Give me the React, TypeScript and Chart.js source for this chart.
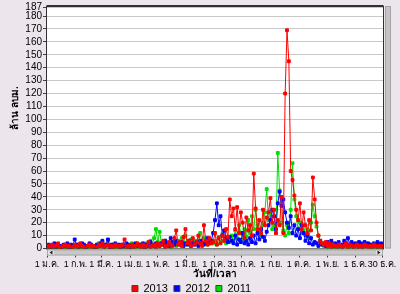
import React, { useEffect, useRef } from "react";
import { Chart, registerables } from "chart.js";

Chart.register(...registerables);

// ---- data ----
const STEP_DAYS = 2; // one sample every 2 days, day 0 = 1 Jan
const tickDays = [0, 31, 59, 90, 120, 151, 181, 211, 243, 273, 304, 334, 363];
const tickLabels = [
  "1 ม.ค.", "1 ก.พ.", "1 มี.ค.", "1 เม.ย.", "1 พ.ค.", "1 มิ.ย.", "1 ก.ค.",
  "31 ก.ค.", "1 ก.ย.", "1 ต.ค.", "1 พ.ย.", "1 ธ.ค.", "30 ธ.ค.",
];
const yTicks = [0, 10, 20, 30, 40, 50, 60, 70, 80, 90, 100, 110, 120, 130, 140, 150, 160, 170, 180, 187];
const seriesNames = ["2013", "2012", "2011"];
const seriesColors = ["#ff0000", "#0000ff", "#00dd00"];
const yTitle = "ล้าน ลบม.";
const xTitle = "วันที่/เวลา";

const values2013 = [
  1, 2, 0, 3, 1, 2, 4, 1, 0, 2,
  3, 1, 2, 0, 1, 3, 2, 1, 4, 2,
  1, 0, 2, 3, 1, 2, 0, 1, 3, 2,
  4, 1, 2, 3, 0, 2, 1, 3, 2, 1,
  2, 3, 7, 1, 2, 0, 3, 1, 2, 4,
  2, 1, 3, 0, 2, 5, 1, 2, 3, 1,
  4, 2, 3, 6, 1, 2, 5, 3, 2, 8,
  14, 3, 5, 2, 9, 15, 4, 6, 2, 8,
  3, 5, 10, 4, 2, 18, 6, 3, 8, 4,
  5, 12, 3, 8, 4, 10, 6, 15, 9, 38,
  25, 31, 15, 32, 12, 28, 20, 8, 24, 14,
  18, 10, 58, 31, 15, 22, 12, 30, 18, 24,
  28, 39, 20, 30, 12, 22, 18, 40, 12, 120,
  169, 145, 60, 53, 41, 30, 22, 35, 15, 28,
  18, 12, 22, 14, 55, 38, 20, 10, 6, 4,
  3, 5, 2, 4, 1, 3, 2, 1, 3, 2,
  1, 2, 4, 1, 3, 2, 1, 2, 3, 1,
  2, 1, 3, 2, 1, 2, 1, 3, 2, 1,
  2, 1, 2,
];
const values2012 = [
  2, 3, 1, 2, 4, 1, 3, 2, 1, 3,
  2, 4, 1, 3, 2, 7, 3, 1, 2, 4,
  3, 1, 2, 4, 3, 2, 1, 3, 2, 4,
  6, 2, 3, 7, 1, 3, 2, 4, 2, 3,
  1, 3, 2, 4, 3, 1, 2, 3, 4, 2,
  3, 2, 4, 1, 3, 2, 5, 3, 2, 4,
  3, 2, 4, 3, 6, 4, 2, 8, 5, 3,
  6, 4, 3, 5, 2, 4, 3, 6, 2, 4,
  3, 5, 2, 6, 4, 3, 5, 8, 4, 6,
  12, 22, 35, 18, 25, 10, 14, 8, 5, 9,
  6, 4, 10, 3, 7, 5, 12, 4, 6, 3,
  8, 5, 10, 4, 12, 7, 15, 9, 6, 13,
  18, 22, 30, 25, 15, 35, 44, 33, 38, 28,
  20, 16, 25, 12, 18, 10, 15, 8, 18, 12,
  6, 10, 4, 8, 3, 5, 4, 2, 6, 3,
  4, 2, 5, 3, 6, 2, 4, 3, 5, 2,
  3, 6, 4, 8, 3, 5, 2, 4, 3, 5,
  4, 3, 5, 2, 4, 3, 2, 4, 3, 5,
  3, 4, 2,
];
const values2011 = [
  1, 0, 2, 1, 0, 1, 3, 0, 1, 2,
  0, 1, 2, 1, 0, 2, 1, 3, 1, 0,
  2, 1, 0, 3, 1, 2, 1, 0, 4, 2,
  5, 1, 3, 6, 2, 1, 3, 0, 2, 1,
  2, 0, 1, 3, 1, 2, 4, 1, 0, 2,
  1, 3, 2, 0, 4, 2, 6, 3, 8, 15,
  5, 13, 4, 3, 6, 2, 4, 1, 3, 5,
  2, 6, 3, 8, 4, 10, 5, 3, 7, 6,
  4, 6, 3, 12, 5, 8, 4, 3, 7, 5,
  4, 6, 3, 9, 5, 11, 6, 4, 8, 5,
  10, 6, 14, 8, 18, 12, 7, 15, 9, 22,
  12, 25, 15, 30, 18, 12, 10, 20, 28, 46,
  22, 28, 15, 18, 12, 74, 45, 20, 14, 10,
  18, 12, 30, 66, 38, 25, 15, 20, 12, 18,
  10, 15, 8, 20, 34, 25, 17, 10, 5, 3,
  2, 3, 1, 2, 4, 1, 2, 3, 1, 2,
  1, 2, 3, 1, 2, 1, 3, 2, 1, 2,
  3, 1, 2, 4, 2, 3, 1, 2, 1, 2,
  1, 2, 1,
];
const seriesValues = [values2013, values2012, values2011];

const FONT = "'Liberation Sans', 'DejaVu Sans', sans-serif";

const decorPlugin = {
  id: "decor",
  beforeDraw(chart: any) {
    const { ctx, chartArea: a } = chart;
    ctx.save();
    ctx.fillStyle = "#ffffff";
    ctx.fillRect(a.left, a.top, a.right - a.left, a.bottom - a.top);
    ctx.restore();
  },
  afterDraw(chart: any) {
    const { ctx, chartArea: a } = chart;
    ctx.save();
    // plot frame
    ctx.strokeStyle = "#303030";
    ctx.lineWidth = 1;
    ctx.strokeRect(a.left - 0.5, a.top - 0.5, a.right - a.left + 1, a.bottom - a.top + 1);
    ctx.beginPath();
    ctx.moveTo(a.left - 0.5, a.top - 1.5);
    ctx.lineTo(a.right + 0.5, a.top - 1.5);
    ctx.stroke();
    // horizontal scrollbar
    const sy = a.bottom + 1;
    const sh = 6;
    ctx.fillStyle = "#c8c8c8";
    ctx.fillRect(a.left, sy, a.right - a.left, sh);
    ctx.strokeStyle = "#a8a8a8";
    ctx.strokeRect(a.left + 0.5, sy + 0.5, a.right - a.left - 1, sh - 1);
    // buttons
    ctx.fillStyle = "#e4e4e4";
    ctx.fillRect(a.left + 1, sy + 1, 6, sh - 2);
    ctx.fillRect(a.right - 7, sy + 1, 6, sh - 2);
    ctx.fillStyle = "#202020";
    ctx.beginPath();
    ctx.moveTo(a.left + 2.5, sy + 3);
    ctx.lineTo(a.left + 5.5, sy + 1);
    ctx.lineTo(a.left + 5.5, sy + 5);
    ctx.closePath();
    ctx.fill();
    ctx.beginPath();
    ctx.moveTo(a.right - 2.5, sy + 3);
    ctx.lineTo(a.right - 5.5, sy + 1);
    ctx.lineTo(a.right - 5.5, sy + 5);
    ctx.closePath();
    ctx.fill();
    // vertical scrollbar
    ctx.fillStyle = "#c4c4c4";
    ctx.fillRect(a.right + 2, a.top - 1, 6, a.bottom - a.top + 1);
    ctx.strokeStyle = "#a4a4a4";
    ctx.strokeRect(a.right + 2.5, a.top - 0.5, 5, a.bottom - a.top);
    // y title
    ctx.fillStyle = "#000000";
    ctx.font = `bold 10px ${FONT}`;
    ctx.textAlign = "center";
    ctx.textBaseline = "middle";
    ctx.translate(15, 108);
    ctx.rotate(-Math.PI / 2);
    ctx.fillText(yTitle, 0, 0);
    ctx.restore();
  },
};

export default function App() {
  const ref = useRef<HTMLCanvasElement | null>(null);

  useEffect(() => {
    document.body.style.margin = "0";
    const canvas = ref.current;
    if (!canvas) return;
    const datasets = seriesNames.map((name, k) => ({
      label: name,
      data: seriesValues[k].map((v, i) => ({ x: i * STEP_DAYS, y: v })),
      borderColor: seriesColors[k],
      backgroundColor: seriesColors[k],
      borderWidth: 1,
      pointStyle: "rect",
      pointRadius: 2,
      pointBorderWidth: 1,
      pointBackgroundColor: seriesColors[k],
      pointBorderColor: seriesColors[k],
      tension: 0,
    }));
    const chart = new Chart(canvas, {
      type: "line",
      data: { datasets },
      plugins: [decorPlugin],
      options: {
        animation: false,
        responsive: false,
        maintainAspectRatio: false,
        layout: { padding: { left: 0, right: 17, top: 6, bottom: -10 } },
        scales: {
          x: {
            type: "linear",
            min: 0,
            max: 364,
            afterBuildTicks: (s: any) => {
              s.ticks = tickDays.map((v) => ({ value: v }));
            },
            afterFit: (s: any) => {
              s.height = 28.5;
            },
            ticks: {
              autoSkip: false,
              maxRotation: 0,
              padding: 2,
              color: "#000",
              font: { size: 9, family: FONT },
              callback: (_v: any, i: number) => tickLabels[i],
            },
            grid: { drawOnChartArea: false, tickLength: 9, color: "#404040", tickColor: "#404040" },
            border: { display: false },
            title: {
              display: true,
              text: xTitle,
              color: "#000",
              font: { size: 10, weight: "bold", family: FONT },
              padding: { top: 0, bottom: -3 },
            },
          },
          y: {
            min: 0,
            max: 187,
            afterBuildTicks: (s: any) => {
              s.ticks = yTicks.map((v) => ({ value: v }));
            },
            afterFit: (s: any) => {
              s.width = 47;
            },
            ticks: {
              autoSkip: false,
              padding: 1,
              color: "#000",
              font: { size: 10, family: FONT },
            },
            grid: { color: "#c8c8c8", tickColor: "#404040", tickLength: 4 },
            border: { display: false },
          },
        },
        plugins: {
          legend: {
            position: "bottom",
            labels: {
              boxWidth: 6,
              boxHeight: 6,
              padding: 6,
              color: "#000",
              font: { size: 11, family: FONT },
              generateLabels: (c: any) =>
                c.data.datasets.map((d: any, i: number) => ({
                  text: d.label,
                  fillStyle: d.backgroundColor,
                  strokeStyle: "#404040",
                  lineWidth: 1,
                  hidden: false,
                  datasetIndex: i,
                  fontColor: "#000",
                })),
            },
          },
          tooltip: { enabled: false },
        },
      } as any,
    });
    return () => chart.destroy();
  }, []);

  return (
    <div style={{ position: "fixed", left: 0, top: 0, width: 400, height: 294, background: "#ece6ec" }}>
      <canvas ref={ref} width={400} height={294} style={{ display: "block", width: 400, height: 294 }} />
    </div>
  );
}
